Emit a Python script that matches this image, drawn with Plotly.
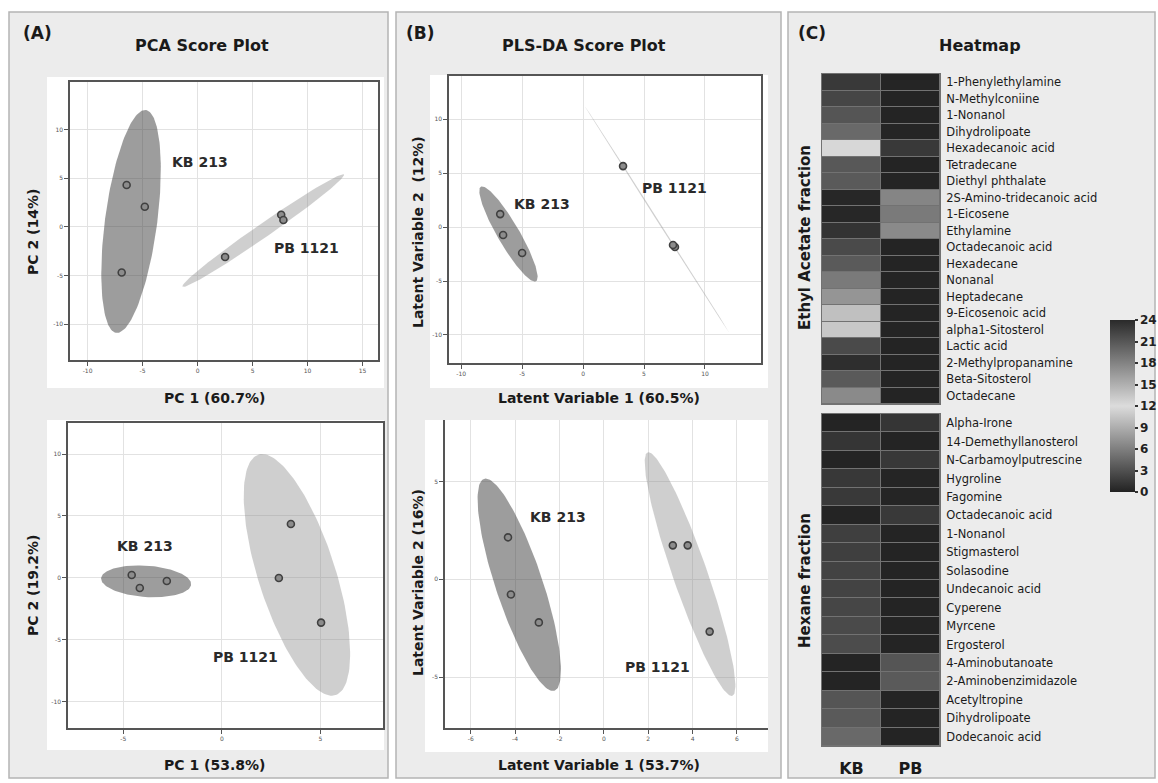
import numpy as np
import plotly.graph_objects as go

W, H = 1158, 783
FONT = "DejaVu Sans"

# ---------------- data ----------------
# (A) PCA, Ethyl acetate fraction (top)
pca_ea_kb_x = [-6.45, -4.8, -6.9]
pca_ea_kb_y = [4.3, 2.06, -4.7]
pca_ea_pb_x = [7.6, 7.8, 2.5]
pca_ea_pb_y = [1.25, 0.7, -3.1]
# (A) PCA, Hexane fraction (bottom)
pca_hx_kb_x = [-4.57, -4.16, -2.79]
pca_hx_kb_y = [0.24, -0.81, -0.24]
pca_hx_pb_x = [3.5, 2.89, 5.03]
pca_hx_pb_y = [4.35, 0.0, -3.6]
# (B) PLS-DA, Ethyl acetate fraction (top)
pls_ea_kb_x = [-6.8, -6.56, -5.0]
pls_ea_kb_y = [1.2, -0.74, -2.4]
pls_ea_pb_x = [3.28, 7.54, 7.38]
pls_ea_pb_y = [5.65, -1.85, -1.67]
# (B) PLS-DA, Hexane fraction (bottom)
pls_hx_kb_x = [-4.32, -4.19, -2.93]
pls_hx_kb_y = [2.15, -0.77, -2.2]
pls_hx_pb_x = [3.11, 3.78, 4.77]
pls_hx_pb_y = [1.74, 1.74, -2.67]

# tick values
pca_ea_xticks = [-10, -5, 0, 5, 10, 15]
pca_ea_yticks = [-10, -5, 0, 5, 10]
pca_hx_xticks = [-5, 0, 5]
pca_hx_yticks = [-10, -5, 0, 5, 10]
pls_ea_xticks = [-10, -5, 0, 5, 10]
pls_ea_yticks = [-10, -5, 0, 5, 10]
pls_hx_xticks = [-6, -4, -2, 0, 2, 4, 6]
pls_hx_yticks = [-5, 0, 5]

# (C) Heatmap
heat_cols = ["KB", "PB"]
ea_names = ["1-Phenylethylamine", "N-Methylconiine", "1-Nonanol", "Dihydrolipoate",
            "Hexadecanoic acid", "Tetradecane", "Diethyl phthalate",
            "2S-Amino-tridecanoic acid", "1-Eicosene", "Ethylamine",
            "Octadecanoic acid", "Hexadecane", "Nonanal", "Heptadecane",
            "9-Eicosenoic acid", "alpha1-Sitosterol", "Lactic acid",
            "2-Methylpropanamine", "Beta-Sitosterol", "Octadecane"]
ea_kb = [1.5, 2.3, 3.3, 4.6, 11.7, 3.5, 3.6, 0.3, 0.3, 1.1,
         2.6, 3.6, 5.7, 7.4, 10.2, 10.7, 2.6, 0.8, 3.6, 6.7]
ea_pb = [0.2, 0.1, 0.1, 0.2, 1.5, 0.1, 0.1, 6.4, 5.7, 6.7,
         0.1, 0.1, 0.1, 0.1, 0.1, 0.1, 0.1, 0.1, 0.1, 0.1]
hx_names = ["Alpha-Irone", "14-Demethyllanosterol", "N-Carbamoylputrescine", "Hygroline",
            "Fagomine", "Octadecanoic acid", "1-Nonanol", "Stigmasterol", "Solasodine",
            "Undecanoic acid", "Cyperene", "Myrcene", "Ergosterol", "4-Aminobutanoate",
            "2-Aminobenzimidazole", "Acetyltropine", "Dihydrolipoate", "Dodecanoic acid"]
hx_kb = [0.1, 1.2, 0.1, 1.4, 1.5, 0.1, 1.9, 1.9, 2.1, 2.1, 2.3, 2.6, 2.7,
         0.1, 0.1, 3.3, 3.6, 4.6]
hx_pb = [1.2, 0.1, 1.4, 0.2, 0.2, 1.5, 0.1, 0.1, 0.1, 0.1, 0.1, 0.1, 0.1,
         3.3, 3.6, 0.1, 0.1, 0.1]
cbar_ticks = [0, 3, 6, 9, 12, 15, 18, 21, 24]


# ---------------- helpers ----------------
def px_x(a, b):
    return [a / W, b / W]


def px_y(top, bottom):
    return [1 - bottom / H, 1 - top / H]


def conf_ellipse(xs, ys, n=160):
    xs = np.asarray(xs, float)
    ys = np.asarray(ys, float)
    cov = np.cov(xs, ys)
    vals, vecs = np.linalg.eigh(cov)
    vals = np.clip(vals, 0, None)
    r = np.sqrt(-2 * np.log(1 - 0.95))
    t = np.linspace(0, 2 * np.pi, n)
    circ = np.vstack([np.cos(t), np.sin(t)])
    pts = vecs @ (np.sqrt(vals)[:, None] * circ) * r
    return xs.mean() + pts[0], ys.mean() + pts[1]


KB_FILL = "rgba(60,60,60,0.5)"
PB_FILL = "rgba(140,140,140,0.42)"

fig = go.Figure()


def add_scatter_group(ax, ay, kbx, kby, pbx, pby):
    for xs, ys, col in ((kbx, kby, KB_FILL), (pbx, pby, PB_FILL)):
        ex, ey = conf_ellipse(xs, ys)
        fig.add_trace(go.Scatter(x=ex, y=ey, mode="lines", fill="toself",
                                 fillcolor=col, line=dict(width=0),
                                 xaxis=ax, yaxis=ay, hoverinfo="skip",
                                 showlegend=False))
    for xs, ys in ((kbx, kby), (pbx, pby)):
        fig.add_trace(go.Scatter(x=xs, y=ys, mode="markers",
                                 marker=dict(size=7, color="#8c8c8c",
                                             line=dict(width=1.6, color="#404040")),
                                 xaxis=ax, yaxis=ay, showlegend=False))


add_scatter_group("x", "y", pca_ea_kb_x, pca_ea_kb_y, pca_ea_pb_x, pca_ea_pb_y)
add_scatter_group("x2", "y2", pca_hx_kb_x, pca_hx_kb_y, pca_hx_pb_x, pca_hx_pb_y)
add_scatter_group("x3", "y3", pls_ea_kb_x, pls_ea_kb_y, pls_ea_pb_x, pls_ea_pb_y)
add_scatter_group("x4", "y4", pls_hx_kb_x, pls_hx_kb_y, pls_hx_pb_x, pls_hx_pb_y)

colorscale = [[0.0, "#222222"], [0.5, "#dcdcdc"], [1.0, "#2a2a2a"]]

fig.add_trace(go.Heatmap(
    z=[[a, b] for a, b in zip(ea_kb, ea_pb)], x=heat_cols, y=ea_names,
    xaxis="x5", yaxis="y5", zmin=0, zmax=24, colorscale=colorscale,
    xgap=1, ygap=1, showscale=True,
    colorbar=dict(x=1110 / W, xanchor="left", y=1 - 320 / H, yanchor="top",
                  len=172 / H, lenmode="fraction", thickness=25,
                  thicknessmode="pixels", outlinewidth=0, xpad=0, ypad=0,
                  tickvals=cbar_ticks, ticks="outside", ticklen=3,
                  tickcolor="#333", tickwidth=1.5,
                  tickfont=dict(family=FONT, size=12, color="#222", weight="bold"))))
fig.add_trace(go.Heatmap(
    z=[[a, b] for a, b in zip(hx_kb, hx_pb)], x=heat_cols, y=hx_names,
    xaxis="x6", yaxis="y6", zmin=0, zmax=24, colorscale=colorscale,
    xgap=1, ygap=1, showscale=False))


def sc_axis(domain, rng, ticks, anchor, mirror):
    return dict(domain=domain, range=rng, tickvals=ticks,
                ticktext=[str(t) for t in ticks], anchor=anchor,
                showgrid=True, gridcolor="#e2e2e2", gridwidth=1, zeroline=False,
                showline=True, linecolor="#555555", linewidth=1.5, mirror=mirror,
                ticks="outside", ticklen=4, tickcolor="#555555",
                tickfont=dict(family=FONT, size=6, color="#555555"),
                fixedrange=True)


layout_axes = dict(
    xaxis=sc_axis(px_x(70, 378), [-11.6, 16.4], pca_ea_xticks, "y", True),
    yaxis=sc_axis(px_y(82, 360), [-13.7, 14.9], pca_ea_yticks, "x", True),
    xaxis2=sc_axis(px_x(68, 383), [-7.8, 8.17], pca_hx_xticks, "y2", True),
    yaxis2=sc_axis(px_y(423, 728), [-12.1, 12.5], pca_hx_yticks, "x2", True),
    xaxis3=sc_axis(px_x(449, 761), [-11.0, 14.6], pls_ea_xticks, "y3", True),
    yaxis3=sc_axis(px_y(76, 363), [-12.6, 14.0], pls_ea_yticks, "x3", True),
    xaxis4=sc_axis(px_x(445, 768), [-7.16, 7.4], pls_hx_xticks, "y4", False),
    yaxis4=sc_axis(px_y(420, 728), [-7.6, 8.15], pls_hx_yticks, "x4", False),
    xaxis5=dict(domain=px_x(822, 940), anchor="y5", showticklabels=False,
                showgrid=False, zeroline=False, showline=False, fixedrange=True),
    yaxis5=dict(domain=px_y(74, 404), anchor="x5", side="right",
                autorange="reversed", showgrid=False, zeroline=False,
                ticks="outside", ticklen=3, tickcolor="rgba(0,0,0,0)",
                tickfont=dict(family=FONT, size=11.5, color="#1a1a1a"),
                fixedrange=True),
    xaxis6=dict(domain=px_x(822, 940), anchor="y6", side="bottom",
                showgrid=False, zeroline=False, showline=False,
                ticks="outside", ticklen=8, tickcolor="rgba(0,0,0,0)",
                tickfont=dict(family=FONT, size=16, color="#1a1a1a", weight="bold"),
                fixedrange=True),
    yaxis6=dict(domain=px_y(414, 746), anchor="x6", side="right",
                autorange="reversed", showgrid=False, zeroline=False,
                ticks="outside", ticklen=3, tickcolor="rgba(0,0,0,0)",
                tickfont=dict(family=FONT, size=11.5, color="#1a1a1a"),
                fixedrange=True),
)


def rect_px(x0, y0, x1, y1, fill, line=None, lw=0):
    return dict(type="rect", xref="paper", yref="paper", layer="below",
                x0=x0 / W, x1=x1 / W, y0=1 - y1 / H, y1=1 - y0 / H,
                fillcolor=fill,
                line=dict(color=line or "rgba(0,0,0,0)", width=lw))


shapes = [
    rect_px(9, 12, 388, 778, "#ececec", "#b4b4b4", 1.5),
    rect_px(396, 12, 781, 778, "#ececec", "#b4b4b4", 1.5),
    rect_px(788, 12, 1155, 778, "#ececec", "#b4b4b4", 1.5),
    rect_px(47, 77, 384, 388, "#ffffff"),
    rect_px(47, 420, 384, 750, "#ffffff"),
    rect_px(430, 75, 768, 388, "#ffffff"),
    rect_px(425, 420, 768, 752, "#ffffff"),
    rect_px(821, 73, 941, 405, "#727272"),
    rect_px(821, 413, 941, 747, "#727272"),
]


def ann_px(text, x, y, size, angle=0, xanchor="center"):
    return dict(text="<b>%s</b>" % text, x=x / W, y=1 - y / H, xref="paper",
                yref="paper", showarrow=False, textangle=angle,
                xanchor=xanchor, yanchor="middle",
                font=dict(family=FONT, size=size, color="#1a1a1a"))


def ann_data(text, x, y, ax, ay, size=14):
    return dict(text="<b>%s</b>" % text, x=x, y=y, xref=ax, yref=ay,
                showarrow=False, xanchor="center", yanchor="middle",
                font=dict(family=FONT, size=size, color="#2a2a2a"))


annotations = [
    ann_px("(A)", 21, 33, 17, xanchor="left"),
    ann_px("PCA Score Plot", 202, 45, 16),
    ann_px("(B)", 404, 33, 17, xanchor="left"),
    ann_px("PLS-DA Score Plot", 584, 45, 16),
    ann_px("(C)", 796, 33, 17, xanchor="left"),
    ann_px("Heatmap", 980, 45, 16),
    ann_px("PC 1 (60.7%)", 214, 398, 14),
    ann_px("PC 1 (53.8%)", 214, 765, 14),
    ann_px("PC 2 (14%)", 33, 232, 14, angle=-90),
    ann_px("PC 2 (19.2%)", 33, 586, 14, angle=-90),
    ann_px("Latent Variable 1 (60.5%)", 599, 398, 14),
    ann_px("Latent Variable 1 (53.7%)", 599, 765, 14),
    ann_px("Latent Variable 2  (12%)", 418, 232, 14, angle=-90),
    ann_px("Latent Variable 2 (16%)", 418, 583, 14, angle=-90),
    ann_px("Ethyl Acetate fraction", 805, 238, 15, angle=-90),
    ann_px("Hexane fraction", 805, 581, 15, angle=-90),
    ann_data("KB 213", 0.2, 6.7, "x", "y"),
    ann_data("PB 1121", 9.9, -2.2, "x", "y"),
    ann_data("KB 213", -3.9, 2.6, "x2", "y2"),
    ann_data("PB 1121", 1.2, -6.4, "x2", "y2"),
    ann_data("KB 213", -3.4, 2.1, "x3", "y3"),
    ann_data("PB 1121", 7.5, 3.6, "x3", "y3"),
    ann_data("KB 213", -2.07, 3.2, "x4", "y4"),
    ann_data("PB 1121", 2.4, -4.5, "x4", "y4"),
]

fig.update_layout(
    width=W, height=H, autosize=False,
    margin=dict(l=0, r=0, t=0, b=0),
    paper_bgcolor="#ffffff", plot_bgcolor="rgba(0,0,0,0)",
    showlegend=False, shapes=shapes, annotations=annotations,
    font=dict(family=FONT, color="#1a1a1a"),
    **layout_axes,
)

fig.write_html(
    "out.html",
    config={"responsive": False, "displayModeBar": False},
    post_script="document.body.style.margin='0';document.body.style.padding='0';"
                "document.body.style.overflow='hidden';",
)
